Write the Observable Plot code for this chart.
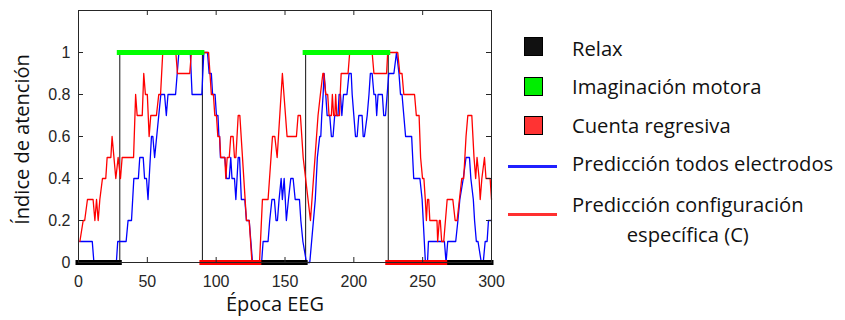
<!DOCTYPE html>
<html><head><meta charset="utf-8">
<script src="https://cdn.jsdelivr.net/npm/d3@7"></script>
<script src="https://cdn.jsdelivr.net/npm/@observablehq/plot@0.6"></script>
<style>
body{margin:0;background:#fff;}
#wrap{position:relative;width:845px;height:320px;overflow:hidden;}
#wrap svg{position:absolute;left:0;top:0;}
.lg{position:absolute;font-family:"Open Sans",sans-serif;font-size:20.2px;color:#111;white-space:nowrap;line-height:1;}
.sw{position:absolute;width:17px;height:17px;border:1px solid #000;box-sizing:content-box;}
.ln{position:absolute;height:3px;}
</style></head><body><div id="wrap"></div>
<script>
// ---- data ----
const xTicks = [0, 50, 100, 150, 200, 250, 300];
const yTicks = [0, 0.2, 0.4, 0.6, 0.8, 1];

// Predicción todos electrodos (blue)
const allEpochs = [1,10,11.2,27.5,28.5,34.6,36,38.5,40.2,43.5,44.5,47,48,49.4,50.5,53,54,55.3,59.8,62.5,63.8,65,70.5,71.7,72.9,81.2,82.5,89.6,91,93.7,94.9,96.5,97.4,99.2,100.2,101.3,102,102.5,103.1,106.3,107.5,109.5,110.6,111.5,113.3,114.3,116,117,118.3,120.8,122,124,126.4,133,134.1,137.7,138.9,140.5,142.3,143.5,144.5,145.7,147.2,148.1,149.4,151,152.5,154.2,155.9,157.4,160.5,161.5,163,165.6,168,172,173.5,175.2,176,176.7,177.7,178.4,179.6,180.6,182.5,183.7,184.9,186.1,188.5,189.3,190.3,191.3,192.5,195,196.5,198.1,198.8,200,201.2,202.4,203.6,206,206.8,207.7,209.7,211,212,213.3,214.6,215.8,216.6,217.6,220.7,221.7,223,224.2,225.4,229.1,231,232.8,233.9,235,236.3,237.6,242,243.5,248,249.6,252,253.5,254.2,265.8,267,268.2,274,275.6,277,279.5,281.5,284,285,286.8,287.7,289,290.2,292.6,294,295.4,296.8,297.8,300];
const allValues = [0.1,0.1,0,0,0.1,0.1,0.2,0.2,0.4,0.4,0.5,0.5,0.4,0.4,0.3,0.6,0.6,0.5,0.8,0.8,0.7,0.8,0.8,0.9,1,1,0.8,0.8,1,1,0.9,0.9,0.8,0.8,0.7,0.7,0.6,0.6,0.5,0.5,0.4,0.4,0.5,0.4,0.4,0.3,0.5,0.5,0.3,0.3,0.2,0.2,0,0,0.1,0.1,0.2,0.3,0.3,0.2,0.2,0.3,0.4,0.3,0.4,0.2,0.3,0.4,0.4,0.3,0.3,0.2,0.1,0,0,0.3,0.5,0.6,0.6,0.7,0.8,0.9,0.8,0.7,0.7,0.6,0.6,0.7,0.7,0.8,0.8,0.7,0.8,0.8,0.9,0.9,0.8,0.7,0.6,0.6,0.7,0.7,0.6,0.6,0.7,0.8,0.9,0.9,0.8,0.8,0.7,0.8,0.8,0.7,0.7,0.8,0.9,0.9,1,0.9,0.8,0.8,0.7,0.6,0.6,0.4,0.4,0.3,0,0,0.1,0.1,0,0.1,0.1,0.2,0.3,0.4,0.5,0.5,0.4,0.3,0.2,0.1,0.1,0,0,0.1,0.1,0.2,0.2];

// Predicción configuración específica (C) (red)
const specEpochs = [1,3.4,4.5,6.5,10.6,11.9,13.1,14.3,15.5,17.4,19.8,20.8,23.5,24.4,27.1,28.8,30.5,31.7,40,41.5,42.6,46.3,47.4,48.6,50,51.3,52.5,56.6,58.3,59.6,61.2,70.7,71.9,80.8,82,94.5,95.5,96.5,98,99,100.2,101.2,102.5,103.3,106.3,107,108,109.5,110.6,112.3,113.3,114.3,116,117.2,122,124,126,131.5,133.6,137.7,140.9,142.6,144.3,148.1,151.5,158.3,159.5,161.2,163.2,168.5,174,175.7,177.5,178.2,179.6,181,182,183.7,184.4,185.3,186.2,186.8,187.6,189.6,190.1,190.8,195.8,197,213.3,214.6,223.8,224.6,231.9,233.4,235,236.3,244.1,245.4,247.4,248.5,249.9,250.9,251.9,252.7,253.5,254.4,255.2,260.4,260.9,262.1,262.8,263.8,265.3,267.8,271.9,273.6,275,276.7,278.4,279.8,281.5,282.8,285.7,287.3,288.5,289.5,291,291.8,293,294.9,296,299,300];
const specValues = [0.1,0.2,0.2,0.3,0.3,0.2,0.3,0.2,0.3,0.4,0.4,0.5,0.5,0.6,0.4,0.5,0.4,0.5,0.5,0.8,0.7,0.7,0.9,0.8,0.8,0.6,0.7,0.7,0.8,0.8,1,1,0.9,0.9,1,1,0.9,0.8,0.8,0.7,0.7,0.6,0.6,0.5,0.5,0.4,0.5,0.5,0.6,0.6,0.5,0.5,0.7,0.7,0.2,0.2,0,0,0.3,0.3,0.6,0.6,0.5,0.9,0.6,0.6,0.7,0.7,0.5,0.2,0.7,0.8,0.9,0.9,0.8,0.8,0.7,0.7,0.8,0.7,0.7,0.8,0.7,0.7,0.8,0.9,0.9,1,1,0.9,0.9,1,1,0.9,0.9,0.8,0.8,0.7,0.7,0.5,0.4,0.4,0.3,0.2,0.3,0.3,0.2,0.2,0.1,0.2,0.2,0.1,0.1,0.3,0.3,0.2,0.2,0.3,0.4,0.4,0.6,0.7,0.7,0.5,0.4,0.5,0.4,0.3,0.4,0.5,0.4,0.4,0.3];

// Ground-truth task timeline
const truthEpochs = [0, 30, 30, 90, 90, 165, 165, 225, 225, 300];
const truthValues = [0, 0, 1, 1, 0, 0, 1, 1, 0, 0];
const stateStart = [0, 30, 90, 135, 165, 225, 270];
const stateEnd   = [30, 90, 135, 165, 225, 270, 300];
const stateLevel = [0, 1, 0, 0, 1, 0, 0];
const stateName  = ["Relax", "Imaginación motora", "Cuenta regresiva", "Relax", "Imaginación motora", "Cuenta regresiva", "Relax"];

// Legend
const stateLabels = ["Relax", "Imaginación motora", "Cuenta regresiva"];
const stateColors = ["#000000", "#00ff00", "#ff0000"];
const swatchColors = ["#111111", "#00ee00", "#ff3333"];
const lineLabels = ["Predicción todos electrodos", "Predicción configuración\nespecífica (C)"];
const lineColors = ["#0000ff", "#ff0000"];
const legendLineColors = ["#2020ff", "#ff3030"];

// ---- build ----
const allData = allEpochs.map((e, i) => ({epoch: e, value: allValues[i]}));
const specData = specEpochs.map((e, i) => ({epoch: e, value: specValues[i]}));
const truthData = truthEpochs.map((e, i) => ({epoch: e, value: truthValues[i]}));
const states = stateStart.map((s, i) => ({start: s, end: stateEnd[i], level: stateLevel[i], name: stateName[i]}));

const W = 845, H = 320, mL = 78, mR = 354, mT = 10, mB = 58;
const fw = W - mL - mR, fh = H - mT - mB, tk = 5;
const axisColor = "#262626";

const chart = Plot.plot({
  width: W, height: H,
  marginLeft: mL, marginRight: mR, marginTop: mT, marginBottom: mB,
  style: {fontFamily: "'Liberation Sans', Arial, sans-serif", fontSize: "16px", color: axisColor, background: "transparent"},
  x: {domain: [0, 300]},
  y: {domain: [0, 1.2]},
  color: {type: "ordinal", domain: stateLabels, range: stateColors},
  marks: [
    Plot.line(truthData, {x: "epoch", y: "value", stroke: "#111", strokeWidth: 1}),
    Plot.line(allData, {x: "epoch", y: "value", stroke: lineColors[0], strokeWidth: 1.3}),
    Plot.line(specData, {x: "epoch", y: "value", stroke: lineColors[1], strokeWidth: 1.3}),
    Plot.ruleY(states, {y: "level", x1: "start", x2: "end", stroke: "name", strokeWidth: 5, strokeLinecap: "square"}),
    Plot.frame({stroke: axisColor, strokeWidth: 1}),
    Plot.tickX(xTicks, {x: d => d, insetTop: fh - tk, stroke: axisColor}),
    Plot.tickX(xTicks, {x: d => d, insetBottom: fh - tk, stroke: axisColor}),
    Plot.tickY(yTicks, {y: d => d, insetRight: fw - tk, stroke: axisColor}),
    Plot.tickY(yTicks, {y: d => d, insetLeft: fw - tk, stroke: axisColor}),
    Plot.axisX({ticks: xTicks, tickSize: 0, tickPadding: 13, label: null, tickFormat: d => String(d)}),
    Plot.axisY({ticks: yTicks, tickSize: 0, tickPadding: 8, label: null, tickFormat: d => String(d)}),
    Plot.text(["Época EEG"], {frameAnchor: "bottom", text: d => d, dx: -10, dy: 42, fontFamily: "'Open Sans', sans-serif", fontSize: 20, fill: "#111", textAnchor: "middle", lineAnchor: "middle"}),
    Plot.text(["Índice de atención"], {frameAnchor: "left", text: d => d, rotate: -90, dx: -56, dy: 3, fontFamily: "'Open Sans', sans-serif", fontSize: 20, fill: "#111", textAnchor: "middle", lineAnchor: "middle"})
  ]
});
const wrap = document.getElementById("wrap");
wrap.appendChild(chart);

// legend (HTML)
const swTop = [37, 77, 116];
const txtCenter = [49, 87, 126];
stateLabels.forEach((lab, i) => {
  const s = document.createElement("div");
  s.className = "sw";
  s.style.left = "524px"; s.style.top = swTop[i] + "px"; s.style.background = swatchColors[i];
  wrap.appendChild(s);
  const t = document.createElement("div");
  t.className = "lg"; t.textContent = lab;
  t.style.left = "572px"; t.style.top = (txtCenter[i] - 11) + "px";
  wrap.appendChild(t);
});
const lnY = [164.5, 213];
const lnTxt = [153, 194];
lineLabels.forEach((lab, i) => {
  const l = document.createElement("div");
  l.className = "ln";
  l.style.left = "508px"; l.style.width = "49px"; l.style.top = lnY[i] + "px"; l.style.background = legendLineColors[i];
  wrap.appendChild(l);
  const lines = lab.split("\n");
  const t = document.createElement("div");
  t.className = "lg";
  t.style.left = "572px"; t.style.top = lnTxt[i] + "px";
  t.style.textAlign = "center"; t.style.lineHeight = "30px";
  t.style.marginTop = lines.length > 1 ? "-5px" : "0px";
  lines.forEach((ln, j) => { if (j) t.appendChild(document.createElement("br")); t.appendChild(document.createTextNode(ln)); });
  if (lines.length === 1) t.style.lineHeight = "21px";
  wrap.appendChild(t);
});
</script></body></html>
